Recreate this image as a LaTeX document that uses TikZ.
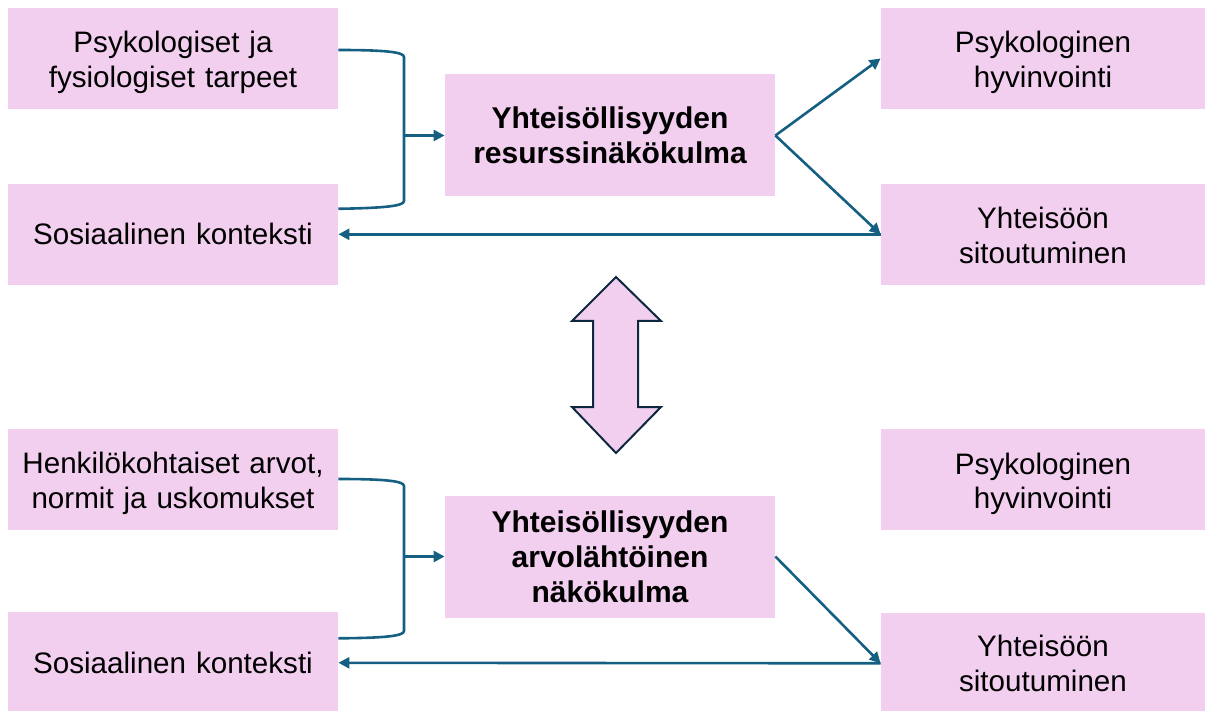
\documentclass[tikz,border=0pt]{standalone}
\usepackage{fontspec}
\setmainfont{Liberation Sans}
\usetikzlibrary{arrows.meta, positioning}

\definecolor{boxpink}{HTML}{F2CEEF}
\definecolor{linkblue}{HTML}{156082}
\definecolor{darknavy}{HTML}{0E2841}

\begin{document}
\begin{tikzpicture}[x=0.5pt, y=-0.5pt,
    factor/.style={fill=boxpink, inner sep=0pt, minimum width=165pt, minimum height=50.5pt,
        text width=162pt, align=center, font=\fontsize{14.8}{17.3}\selectfont},
    twoline/.style={text height=13.5pt, text depth=19pt},
    outcome/.style={factor, minimum width=162pt},
    viewpoint/.style={factor, minimum height=61pt, font=\fontsize{15}{17.5}\selectfont\bfseries},
    link/.style={draw=linkblue, line width=1.3pt, -{Triangle[length=5.5pt, width=5.5pt]}},
    brace/.style={draw=linkblue, line width=1.3pt}]
    \useasboundingbox (0,0) rectangle (1205,711);

    % Resurssinäkökulma (ylhäällä)
    \node (tarpeet) [factor, twoline] at (173,58.5) {Psykologiset ja\\fysiologiset tarpeet};
    \node (konteksti1) [factor, below=37pt of tarpeet] {Sosiaalinen konteksti};
    \node (resurssi) [viewpoint] at (610,135.5) {Yhteisöllisyyden\\resurssinäkökulma};
    \node (hyvinvointi1) [outcome, twoline] at (1043,58.5) {Psykologinen\\hyvinvointi};
    \node (sitoutuminen1) [outcome, twoline, below=37pt of hyvinvointi1] {Yhteisöön\\sitoutuminen};

    % Arvolähtöinen näkökulma (alhaalla)
    \node (arvot) [factor, twoline] at (173,479) {Henkilökohtaiset arvot,\\normit ja uskomukset};
    \node (konteksti2) [factor, below=41pt of arvot] {Sosiaalinen konteksti};
    \node (arvo) [viewpoint] at (610,556.5) {Yhteisöllisyyden\\arvolähtöinen\\näkökulma};
    \node (hyvinvointi2) [outcome, twoline] at (1043,479.5) {Psykologinen\\hyvinvointi};
    \node (sitoutuminen2) [outcome, below=41pt of hyvinvointi2] {Yhteisöön\\sitoutuminen};

    % Yhdysviivat ylhäällä
    \coordinate (joint1) at (404,135.5);
    \draw[brace] ([yshift=4.25pt]tarpeet.east) .. controls (385,50) and (404,52) .. (404,57)
        -- (404,201) .. controls (404,206) and (385,208) .. ([yshift=12.75pt]konteksti1.east);
    \draw[link] (joint1) -- (resurssi.west);
    \draw[link] (resurssi.east) -- (hyvinvointi1.west);
    \draw[link] (resurssi.east) -- (sitoutuminen1.west);
    \draw[link] (sitoutuminen1.west) -- (konteksti1.east);

    % Yhdysviivat alhaalla
    \coordinate (joint2) at (404,556.5);
    \draw[brace] (arvot.east) .. controls (385,479) and (404,481) .. (404,486)
        -- (404,631) .. controls (404,636) and (385,638) .. ([yshift=12.25pt]konteksti2.east);
    \draw[link] (joint2) -- (arvo.west);
    \draw[link] (arvo.east) -- (sitoutuminen2.west);
    \draw[link] (sitoutuminen2.west) -- (konteksti2.east);

    % Kaksisuuntainen nuoli
    \draw[darknavy, line width=1pt, fill=boxpink, line join=miter]
        (616,277) -- (661,321) -- (638,321) -- (638,407) -- (661,407) -- (616,453)
        -- (572,407) -- (593,407) -- (593,321) -- (572,321) -- cycle;
\end{tikzpicture}
\end{document}
